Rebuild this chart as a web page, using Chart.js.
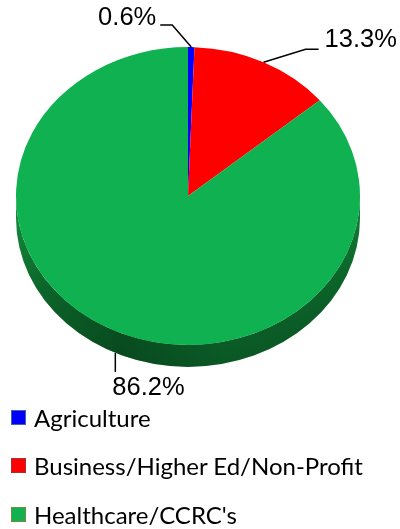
<!DOCTYPE html>
<html>
<head>
<meta charset="utf-8">
<script src="https://cdn.jsdelivr.net/npm/chart.js@4.4.0/dist/chart.umd.min.js"></script>
<style>
  html, body { margin: 0; padding: 0; background: #fff; }
  #wrap { position: relative; width: 400px; height: 529px; overflow: hidden; }
  #pie { position: absolute; left: 0; top: 0; }
  #legend { position: absolute; left: 11px; top: 393px; font-family: Lato, "Open Sans", sans-serif; font-size: 24px; color: #000; }
  .item { display: flex; align-items: center; height: 48.5px; white-space: nowrap; }
  .box { width: 13px; height: 13px; margin-right: 8px; border: 1px solid; }
</style>
</head>
<body>
<div id="wrap">
  <canvas id="pie" width="400" height="400"></canvas>
  <div id="legend"></div>
</div>
<script>
// data
const categories = ['Agriculture', 'Business/Higher Ed/Non-Profit', "Healthcare/CCRC's"];
const shares = [0.6, 13.3, 86.2];
const shareLabels = ['0.6%', '13.3%', '86.2%'];

// style
const fillColors = ['#0000ff', '#ff0000', '#10b150'];
const boxBorders = ['#4a64a8', '#a83232', '#7c8a3c'];
const tilt = 0.866;   // vertical squash of the pie
const depth = 22;     // thickness of the pie side
// leader lines, offsets from the slice edge
const leaders = [
  { pts: [[-19, -22], [-31, -22]], align: 'right', tx: -35, ty: -29 },
  { pts: [[42, -13], [55, -13]], align: 'left', tx: 61, ty: -22 },
  { pts: [[0, 19]], align: 'left', tx: -3, ty: 35, side: true }
];

const pie3d = {
  id: 'pie3d',
  beforeDatasetsDraw(chart) {
    const arc = chart.getDatasetMeta(0).data[0];
    const { x, y, outerRadius } = arc.getProps(['x', 'y', 'outerRadius'], true);
    const ctx = chart.ctx;
    const rx = outerRadius, ry = outerRadius * tilt;
    ctx.save();
    const sidePath = () => {
      ctx.beginPath();
      ctx.ellipse(x, y, rx, ry, 0, 0, Math.PI, false);
      ctx.lineTo(x - rx, y + depth);
      ctx.ellipse(x, y + depth, rx, ry, 0, Math.PI, 0, true);
      ctx.closePath();
    };
    const g = ctx.createLinearGradient(0, y, 0, y + ry + depth);
    g.addColorStop(0, '#15913f');
    g.addColorStop(0.55, '#0d6b2d');
    g.addColorStop(1, '#0b5a26');
    ctx.fillStyle = g;
    sidePath();
    ctx.fill();
    // a bit darker towards the lower left
    const h = ctx.createLinearGradient(x - rx, 0, x + rx, 0);
    h.addColorStop(0, 'rgba(0,30,10,0)');
    h.addColorStop(0.3, 'rgba(0,30,10,0.3)');
    h.addColorStop(0.6, 'rgba(0,30,10,0.05)');
    h.addColorStop(1, 'rgba(0,30,10,0.15)');
    ctx.fillStyle = h;
    sidePath();
    ctx.fill();
    ctx.restore();
    ctx.save();
    ctx.translate(x, y);
    ctx.scale(1, tilt);
    ctx.translate(-x, -y);
  },
  afterDatasetsDraw(chart) {
    const ctx = chart.ctx;
    ctx.restore();
    ctx.save();
    ctx.strokeStyle = '#000';
    ctx.lineWidth = 1.5;
    ctx.fillStyle = '#000';
    ctx.font = '25.5px "Liberation Sans", Arial, sans-serif';
    ctx.textBaseline = 'middle';
    chart.getDatasetMeta(0).data.forEach((arc, i) => {
      const p = arc.getProps(['x', 'y', 'startAngle', 'endAngle', 'outerRadius'], true);
      const a = (p.startAngle + p.endAngle) / 2;
      const L = leaders[i];
      const ax = p.x + p.outerRadius * Math.cos(a);
      const ay = p.y + p.outerRadius * tilt * Math.sin(a) + (L.side ? depth : 0);
      ctx.beginPath();
      ctx.moveTo(ax, ay);
      L.pts.forEach(q => ctx.lineTo(ax + q[0], ay + q[1]));
      ctx.stroke();
      ctx.textAlign = L.align;
      ctx.fillText(shareLabels[i], ax + L.tx, ay + L.ty);
    });
    ctx.restore();
  }
};

new Chart(document.getElementById('pie'), {
  type: 'pie',
  data: {
    labels: categories,
    datasets: [{
      data: shares,
      backgroundColor: fillColors,
      borderWidth: 0
    }]
  },
  options: {
    responsive: false,
    animation: false,
    layout: { padding: { left: 16, right: 40, top: 24, bottom: 32 } },
    plugins: {
      legend: { display: false },
      tooltip: { enabled: false }
    }
  },
  plugins: [pie3d]
});

// legend
const legendEl = document.getElementById('legend');
categories.forEach((name, i) => {
  const item = document.createElement('div');
  item.className = 'item';
  const box = document.createElement('span');
  box.className = 'box';
  box.style.background = fillColors[i];
  box.style.borderColor = boxBorders[i];
  item.appendChild(box);
  item.appendChild(document.createTextNode(name));
  legendEl.appendChild(item);
});
</script>
</body>
</html>
